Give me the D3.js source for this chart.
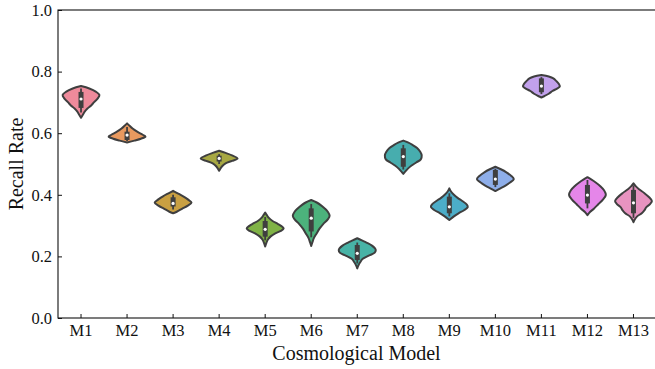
<!DOCTYPE html>
<html>
<head>
<meta charset="utf-8">
<script src="https://cdn.jsdelivr.net/npm/d3@7/dist/d3.min.js"></script>
<style>
  body { margin: 0; background: #fff; }
  svg { display: block; }
</style>
</head>
<body>
<svg id="chart" width="655" height="369"></svg>
<script>
// categories
var models = ['M1', 'M2', 'M3', 'M4', 'M5', 'M6', 'M7', 'M8', 'M9', 'M10', 'M11', 'M12', 'M13'];

// box statistics
var medians = [0.711, 0.594, 0.372, 0.518, 0.288, 0.324, 0.210, 0.524, 0.361, 0.451, 0.753, 0.399, 0.374];
var q1s     = [0.682, 0.578, 0.362, 0.508, 0.264, 0.281, 0.188, 0.491, 0.340, 0.432, 0.733, 0.372, 0.340];
var q3s     = [0.734, 0.605, 0.392, 0.527, 0.315, 0.356, 0.237, 0.551, 0.394, 0.481, 0.778, 0.432, 0.416];
var whiskLo = [0.667, 0.575, 0.352, 0.500, 0.252, 0.262, 0.177, 0.482, 0.330, 0.425, 0.727, 0.356, 0.325];
var whiskHi = [0.745, 0.620, 0.400, 0.532, 0.328, 0.370, 0.245, 0.562, 0.405, 0.485, 0.782, 0.448, 0.430];

// violin outlines: [recall, relative half width]
var profiles = [
  [[0.753,0],[0.745,0.45],[0.735,0.8],[0.724,1],[0.712,0.9],[0.70,0.7],[0.69,0.55],[0.68,0.35],[0.67,0.2],[0.66,0.1],[0.65,0]],
  [[0.632,0],[0.625,0.12],[0.615,0.3],[0.605,0.55],[0.595,0.85],[0.589,1],[0.582,0.75],[0.576,0.4],[0.570,0]],
  [[0.413,0],[0.405,0.25],[0.395,0.55],[0.385,0.8],[0.375,1],[0.365,0.8],[0.355,0.5],[0.345,0.2],[0.340,0]],
  [[0.543,0],[0.536,0.35],[0.528,0.7],[0.518,1],[0.510,0.7],[0.502,0.35],[0.492,0.15],[0.483,0.05],[0.478,0]],
  [[0.342,0],[0.335,0.08],[0.325,0.2],[0.315,0.4],[0.305,0.7],[0.295,0.95],[0.290,1],[0.283,0.85],[0.275,0.55],[0.265,0.3],[0.255,0.15],[0.245,0.07],[0.232,0]],
  [[0.383,0],[0.375,0.3],[0.365,0.55],[0.355,0.75],[0.345,0.9],[0.332,1],[0.320,0.9],[0.305,0.65],[0.290,0.45],[0.275,0.3],[0.260,0.15],[0.245,0.06],[0.234,0]],
  [[0.259,0],[0.252,0.25],[0.245,0.5],[0.235,0.8],[0.222,1],[0.212,0.95],[0.202,0.6],[0.192,0.3],[0.180,0.15],[0.170,0.06],[0.161,0]],
  [[0.576,0],[0.570,0.25],[0.562,0.5],[0.552,0.75],[0.540,0.92],[0.528,1],[0.515,0.95],[0.505,0.7],[0.495,0.45],[0.485,0.25],[0.475,0.1],[0.468,0]],
  [[0.421,0],[0.410,0.1],[0.400,0.25],[0.390,0.45],[0.380,0.7],[0.368,0.95],[0.360,1],[0.350,0.8],[0.340,0.5],[0.330,0.25],[0.318,0]],
  [[0.491,0],[0.483,0.3],[0.473,0.6],[0.462,0.85],[0.451,1],[0.440,0.8],[0.430,0.55],[0.420,0.25],[0.412,0]],
  [[0.789,0],[0.784,0.4],[0.778,0.65],[0.770,0.8],[0.760,0.95],[0.752,1],[0.745,0.85],[0.737,0.6],[0.728,0.4],[0.720,0.15],[0.716,0]],
  [[0.457,0],[0.450,0.2],[0.440,0.45],[0.428,0.7],[0.415,0.9],[0.400,1],[0.385,0.85],[0.370,0.6],[0.355,0.35],[0.345,0.15],[0.334,0]],
  [[0.437,0],[0.428,0.12],[0.418,0.3],[0.405,0.6],[0.392,0.85],[0.380,1],[0.370,0.9],[0.360,0.7],[0.350,0.6],[0.340,0.45],[0.330,0.2],[0.320,0.07],[0.311,0]]
];

var yTicks = [0.0, 0.2, 0.4, 0.6, 0.8, 1.0];

var colors = ['#ee8a9b', '#e8995f', '#c9a042', '#a7a843', '#80b346', '#4cb27c',
              '#48b3a6', '#47adae', '#4cadc8', '#8eaee9', '#c2a1ec', '#e586e9', '#e893c0'];

var FONT = 'Liberation Serif';

var margin = { left: 58, top: 10, right: 656.5, bottom: 318 };

var svg = d3.select('#chart');

var x = d3.scaleBand()
  .domain(models)
  .range([margin.left, margin.right]);

var y = d3.scaleLinear()
  .domain([0, 1])
  .range([margin.bottom, margin.top]);

var halfW = x.bandwidth() * 0.4;

// violins
var g = svg.append('g');

models.forEach(function(m, i) {
  var cx = x(m) + x.bandwidth() / 2;

  var area = d3.area()
    .curve(d3.curveCatmullRom)
    .y(function(d) { return y(d[0]); })
    .x0(function(d) { return cx - halfW * d[1]; })
    .x1(function(d) { return cx + halfW * d[1]; });

  g.append('path')
    .datum(profiles[i])
    .attr('d', area)
    .attr('fill', colors[i])
    .attr('stroke', '#3f3f3f')
    .attr('stroke-width', 2)
    .attr('stroke-linejoin', 'round');

  // whisker
  g.append('line')
    .attr('x1', cx).attr('x2', cx)
    .attr('y1', y(whiskLo[i])).attr('y2', y(whiskHi[i]))
    .attr('stroke', '#3f3f3f')
    .attr('stroke-width', 1.8);

  // box
  g.append('line')
    .attr('x1', cx).attr('x2', cx)
    .attr('y1', y(q1s[i])).attr('y2', y(q3s[i]))
    .attr('stroke', '#3f3f3f')
    .attr('stroke-width', 5);

  // median
  g.append('circle')
    .attr('cx', cx)
    .attr('cy', y(medians[i]))
    .attr('r', 1.6)
    .attr('fill', '#fff');
});

// axes
var yAxis = d3.axisLeft(y)
  .tickValues(yTicks)
  .tickFormat(d3.format('.1f'))
  .tickSizeInner(-4)
  .tickSizeOuter(0)
  .tickPadding(6);

var xAxis = d3.axisBottom(x)
  .tickSizeInner(-4)
  .tickSizeOuter(0)
  .tickPadding(6);

var ya = svg.append('g')
  .attr('transform', 'translate(' + margin.left + ',0)')
  .call(yAxis);

var xa = svg.append('g')
  .attr('transform', 'translate(0,' + margin.bottom + ')')
  .call(xAxis);

[ya, xa].forEach(function(a) {
  a.attr('font-family', null).attr('font-size', null);
  a.selectAll('text')
    .attr('font-family', FONT)
    .attr('font-size', 16.5)
    .attr('fill', '#111');
  a.selectAll('line').attr('stroke', '#111').attr('stroke-width', 1);
  a.select('.domain').remove();
});

xa.selectAll('text').attr('dy', '0.72em');

// spines
svg.append('rect')
  .attr('x', margin.left)
  .attr('y', margin.top)
  .attr('width', margin.right - margin.left)
  .attr('height', margin.bottom - margin.top)
  .attr('fill', 'none')
  .attr('stroke', '#111')
  .attr('stroke-width', 1.1);

// axis titles
svg.append('text')
  .attr('x', (margin.left + 655) / 2)
  .attr('y', 360)
  .attr('text-anchor', 'middle')
  .attr('font-family', FONT)
  .attr('font-size', 20)
  .attr('fill', '#111')
  .text('Cosmological Model');

svg.append('text')
  .attr('transform', 'translate(23,' + ((margin.top + margin.bottom) / 2) + ') rotate(-90)')
  .attr('text-anchor', 'middle')
  .attr('font-family', FONT)
  .attr('font-size', 20)
  .attr('fill', '#111')
  .text('Recall Rate');
</script>
</body>
</html>
